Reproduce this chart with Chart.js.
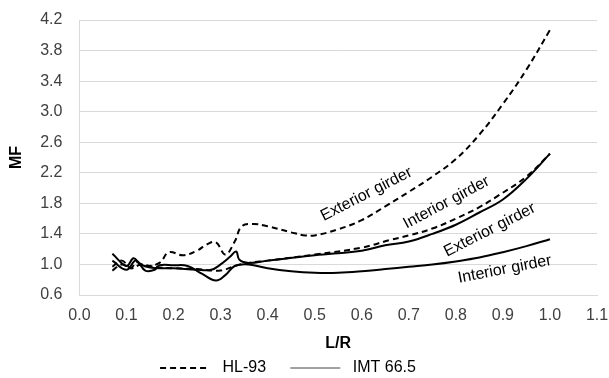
<!DOCTYPE html>
<html>
<head>
<meta charset="utf-8">
<script src="https://cdn.jsdelivr.net/npm/chart.js@4/dist/chart.umd.min.js"></script>
<style>
  html, body { margin: 0; padding: 0; background: #fff; }
  #wrap { width: 609px; height: 378px; }
</style>
</head>
<body>
<div id="wrap"><canvas id="myChart" width="609" height="378"></canvas></div>
<script>
// values
const hlExtX = [0.07, 0.09, 0.11, 0.12, 0.14, 0.17, 0.19, 0.22, 0.25, 0.27, 0.29, 0.31, 0.33, 0.345, 0.37, 0.4, 0.45, 0.48, 0.5, 0.55, 0.6, 0.65, 0.7, 0.75, 0.8, 0.85, 0.9, 0.95, 1.0]
const hlExtY = [0.92, 1.0, 0.95, 1.03, 0.98, 1.02, 1.16, 1.12, 1.18, 1.26, 1.29, 1.13, 1.3, 1.5, 1.53, 1.5, 1.42, 1.38, 1.38, 1.46, 1.58, 1.76, 1.95, 2.15, 2.38, 2.7, 3.1, 3.55, 4.07]

const hlIntX = [0.07, 0.09, 0.11, 0.13, 0.15, 0.17, 0.2, 0.25, 0.3, 0.33, 0.36, 0.4, 0.5, 0.6, 0.66, 0.7, 0.75, 0.8, 0.85, 0.89, 0.95, 1.0]
const hlIntY = [0.97, 1.05, 0.95, 1.0, 0.98, 0.96, 0.95, 0.94, 0.92, 0.98, 1.02, 1.05, 1.13, 1.22, 1.32, 1.38, 1.47, 1.6, 1.75, 1.9, 2.15, 2.45]

const imtExtX = [0.07, 0.1, 0.115, 0.13, 0.15, 0.18, 0.2, 0.25, 0.28, 0.3, 0.32, 0.333, 0.34, 0.36, 0.4, 0.5, 0.6, 0.65, 0.7, 0.75, 0.8, 0.85, 0.9, 0.95, 1.0]
const imtExtY = [1.14, 0.98, 1.08, 1.0, 0.96, 0.95, 0.95, 0.93, 0.93, 1.0, 1.1, 1.17, 1.06, 1.02, 1.05, 1.12, 1.18, 1.25, 1.3, 1.4, 1.52, 1.68, 1.85, 2.12, 2.45]

const imtIntX = [0.07, 0.1, 0.12, 0.14, 0.16, 0.17, 0.2, 0.23, 0.26, 0.29, 0.31, 0.33, 0.36, 0.4, 0.45, 0.5, 0.55, 0.6, 0.65, 0.7, 0.75, 0.8, 0.85, 0.9, 0.95, 1.0]
const imtIntY = [1.05, 0.93, 1.05, 0.92, 0.93, 0.99, 0.99, 0.98, 0.88, 0.79, 0.86, 0.98, 1.0, 0.95, 0.91, 0.89, 0.89, 0.91, 0.94, 0.97, 1.0, 1.04, 1.09, 1.16, 1.24, 1.33]

const xTicks = [0.0, 0.1, 0.2, 0.3, 0.4, 0.5, 0.6, 0.7, 0.8, 0.9, 1.0, 1.1]
const yTicks = [0.6, 1.0, 1.4, 1.8, 2.2, 2.6, 3.0, 3.4, 3.8, 4.2]

// curve labels: text, anchor (data units), angle in degrees
const curveLabels = [
  { text: 'Exterior girder', x: 0.61, y: 1.92, angle: -27 },
  { text: 'Interior girder', x: 0.78, y: 1.81, angle: -28 },
  { text: 'Exterior girder', x: 0.872, y: 1.45, angle: -27 },
  { text: 'Interior girder', x: 0.904, y: 0.935, angle: -11 }
]

const pts = (xs, ys) => xs.map((x, i) => ({ x: x, y: ys[i] }))

const labelPlugin = {
  id: 'curveLabels',
  afterDatasetsDraw(chart) {
    const { ctx, scales } = chart
    ctx.save()
    ctx.font = '16px "Liberation Sans", Arial, sans-serif'
    ctx.fillStyle = '#000'
    ctx.textAlign = 'center'
    ctx.textBaseline = 'middle'
    curveLabels.forEach(l => {
      ctx.save()
      ctx.translate(scales.x.getPixelForValue(l.x), scales.y.getPixelForValue(l.y))
      ctx.rotate(l.angle * Math.PI / 180)
      ctx.fillText(l.text, 0, 0)
      ctx.restore()
    })
    ctx.restore()
  }
}

const line = (label, data, dashed) => ({
  label: label,
  data: data,
  borderColor: '#000',
  backgroundColor: 'transparent',
  borderWidth: 2,
  borderDash: dashed ? [6, 4] : [],
  pointRadius: 0,
  tension: 0.4,
  fill: false
})

Chart.defaults.font.family = '"Liberation Sans", Arial, sans-serif'
Chart.defaults.font.size = 16
Chart.defaults.color = '#404040'

new Chart(document.getElementById('myChart'), {
  type: 'line',
  data: {
    datasets: [
      line('HL-93', pts(hlExtX, hlExtY), true),
      line('HL-93 int', pts(hlIntX, hlIntY), true),
      line('IMT 66.5', pts(imtExtX, imtExtY), false),
      line('IMT 66.5 int', pts(imtIntX, imtIntY), false)
    ]
  },
  options: {
    responsive: false,
    animation: false,
    layout: { padding: { left: 7, right: 0, top: 20, bottom: -8 } },
    scales: {
      x: {
        type: 'linear',
        min: 0, max: 1.1,
        afterBuildTicks: axis => { axis.ticks = xTicks.map(v => ({ value: v })) },
        afterFit: axis => { axis.paddingRight = 12 },
        ticks: { callback: v => v.toFixed(1), color: '#404040', padding: 13, maxRotation: 0, font: { lineHeight: 1 } },
        grid: { display: false, drawTicks: false },
        border: { display: true, color: '#d9d9d9', width: 1 },
        title: { display: true, text: 'L/R', font: { weight: 'bold', size: 16, lineHeight: 1 }, color: '#000', padding: { top: -1, bottom: 6 } }
      },
      y: {
        min: 0.6, max: 4.2,
        afterBuildTicks: axis => { axis.ticks = yTicks.map(v => ({ value: v })) },
        afterFit: axis => { axis.paddingTop = 0; axis.paddingBottom = 0 },
        ticks: { callback: v => v.toFixed(1), color: '#404040', padding: 17, font: { lineHeight: 1 } },
        grid: { color: '#d9d9d9', lineWidth: 1, drawTicks: false },
        border: { display: true, color: '#d9d9d9', width: 1 },
        title: { display: true, text: 'MF', font: { weight: 'bold', size: 16 }, color: '#000', padding: { top: 0, bottom: -3 } }
      }
    },
    plugins: {
      legend: {
        position: 'bottom',
        labels: {
          usePointStyle: true,
          pointStyleWidth: 50,
          boxHeight: 16,
          color: '#000',
          padding: 2,
          filter: item => item.datasetIndex === 0 || item.datasetIndex === 2,
          generateLabels: chart => chart.data.datasets.map((d, i) => ({
            text: i === 0 ? ' ' + d.label + '     ' : ' ' + d.label + '         ',
            pointStyle: 'line',
            fillStyle: 'transparent',
            strokeStyle: i === 0 ? '#000' : '#444',
            lineWidth: i === 0 ? 2 : 1,
            lineDash: d.borderDash,
            hidden: false,
            datasetIndex: i
          }))
        }
      },
      tooltip: { enabled: false }
    }
  },
  plugins: [labelPlugin]
})
</script>
</body>
</html>
